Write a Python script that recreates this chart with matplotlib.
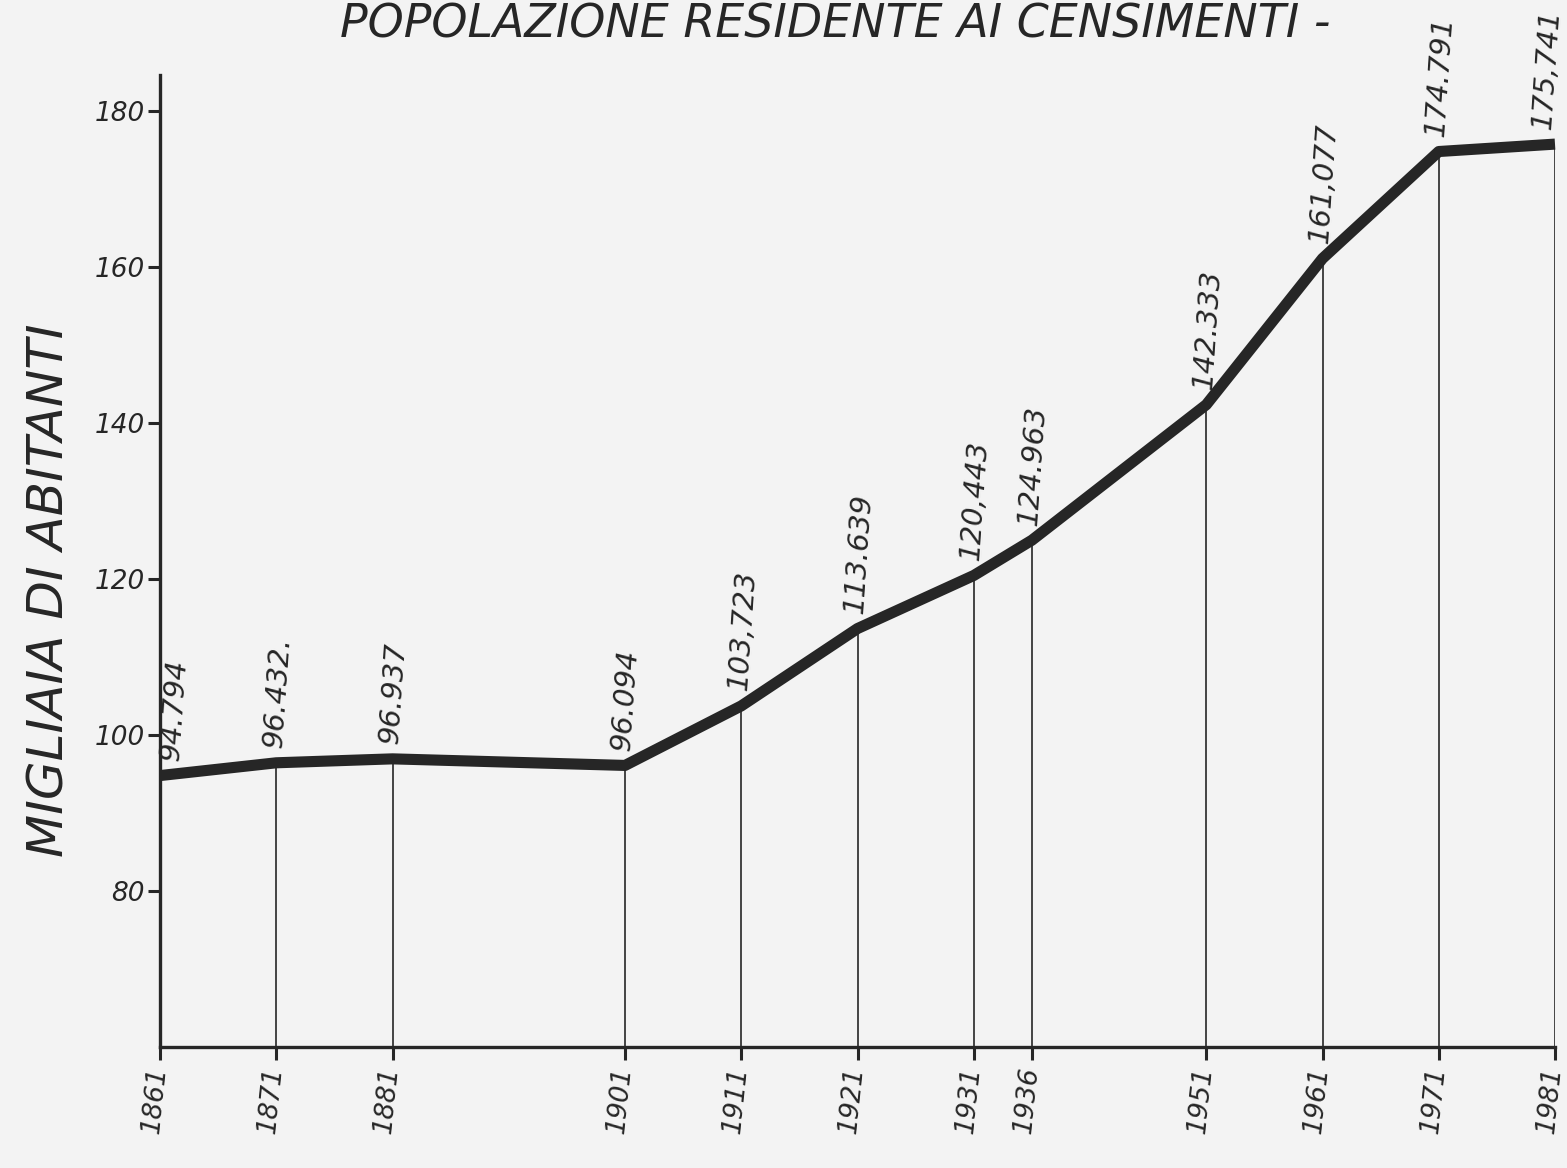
import matplotlib
matplotlib.use("Agg")
import matplotlib.pyplot as plt

# Censimenti: anni e popolazione residente (migliaia di abitanti)
anni = [1861, 1871, 1881, 1901, 1911, 1921, 1931, 1936, 1951, 1961, 1971, 1981]
popolazione = [94.794, 96.432, 96.937, 96.094, 103.723, 113.639,
               120.443, 124.963, 142.333, 161.077, 174.791, 175.741]
# etichette come scritte a mano sul grafico
etichette = ["94.794", "96.432.", "96.937", "96.094", "103,723", "113.639",
             "120,443", "124.963", "142.333", "161,077", "174.791", "175,741"]
y_ticks = [80, 100, 120, 140, 160, 180]

titolo = "POPOLAZIONE RESIDENTE AI CENSIMENTI -"
asse_y = "MIGLIAIA DI ABITANTI"

ink = "#262626"
paper = "#f3f3f3"

fig = plt.figure(figsize=(15.67, 11.68), dpi=100, facecolor=paper)
W, H = 1567, 1168
ax = fig.add_axes([160 / W, (H - 1047) / H, (1555 - 160) / W, (1047 - 75) / H])
ax.set_facecolor(paper)
ax.set_xlim(1861, 1981)
ax.set_ylim(60, 184.6)

# linee verticali dai censimenti alla curva
for a, p in zip(anni[1:], popolazione[1:]):
    ax.plot([a, a], [60, p], color=ink, lw=1.2, solid_capstyle="butt")

ax.plot(anni, popolazione, color=ink, lw=8, solid_joinstyle="round",
        solid_capstyle="butt", clip_on=False, zorder=3)

# etichette dei valori, quasi verticali sopra la curva
for i, (a, p, t) in enumerate(zip(anni, popolazione, etichette)):
    dx = -9 if i == len(anni) - 1 else (8 if i == 0 else -2)
    ax.annotate(t, (a, p), xytext=(dx, 11), textcoords="offset points",
                rotation=86, rotation_mode="anchor", ha="left", va="center",
                fontsize=21, fontstyle="italic", color=ink, annotation_clip=False)

for a in anni:
    ax.annotate(str(a), (a, 60), xytext=(-1, -14), textcoords="offset points",
                rotation=84, rotation_mode="anchor", ha="right", va="center",
                fontsize=19, fontstyle="italic", color=ink, annotation_clip=False)

ax.set_xticks(anni)
ax.set_xticklabels([])
ax.set_yticks(y_ticks)
ax.set_yticklabels([str(v) for v in y_ticks], fontstyle="italic", fontsize=19,
                   color=ink)
ax.tick_params(axis="y", direction="out", length=9, width=2.2, color=ink, pad=2)
ax.tick_params(axis="x", direction="out", length=9, width=2.2, color=ink)

for s in ["top", "right"]:
    ax.spines[s].set_visible(False)
for s in ["left", "bottom"]:
    ax.spines[s].set_linewidth(2.4)
    ax.spines[s].set_color(ink)

fig.text(835 / W, 1 - 25 / H, titolo, ha="center", va="center",
         fontsize=33, fontstyle="italic", color=ink)
fig.text(50 / W, 1 - 590 / H, asse_y, ha="center", va="center", rotation=90,
         fontsize=36, fontstyle="italic", color=ink)

fig.savefig("out.png", dpi=100, facecolor=paper)
